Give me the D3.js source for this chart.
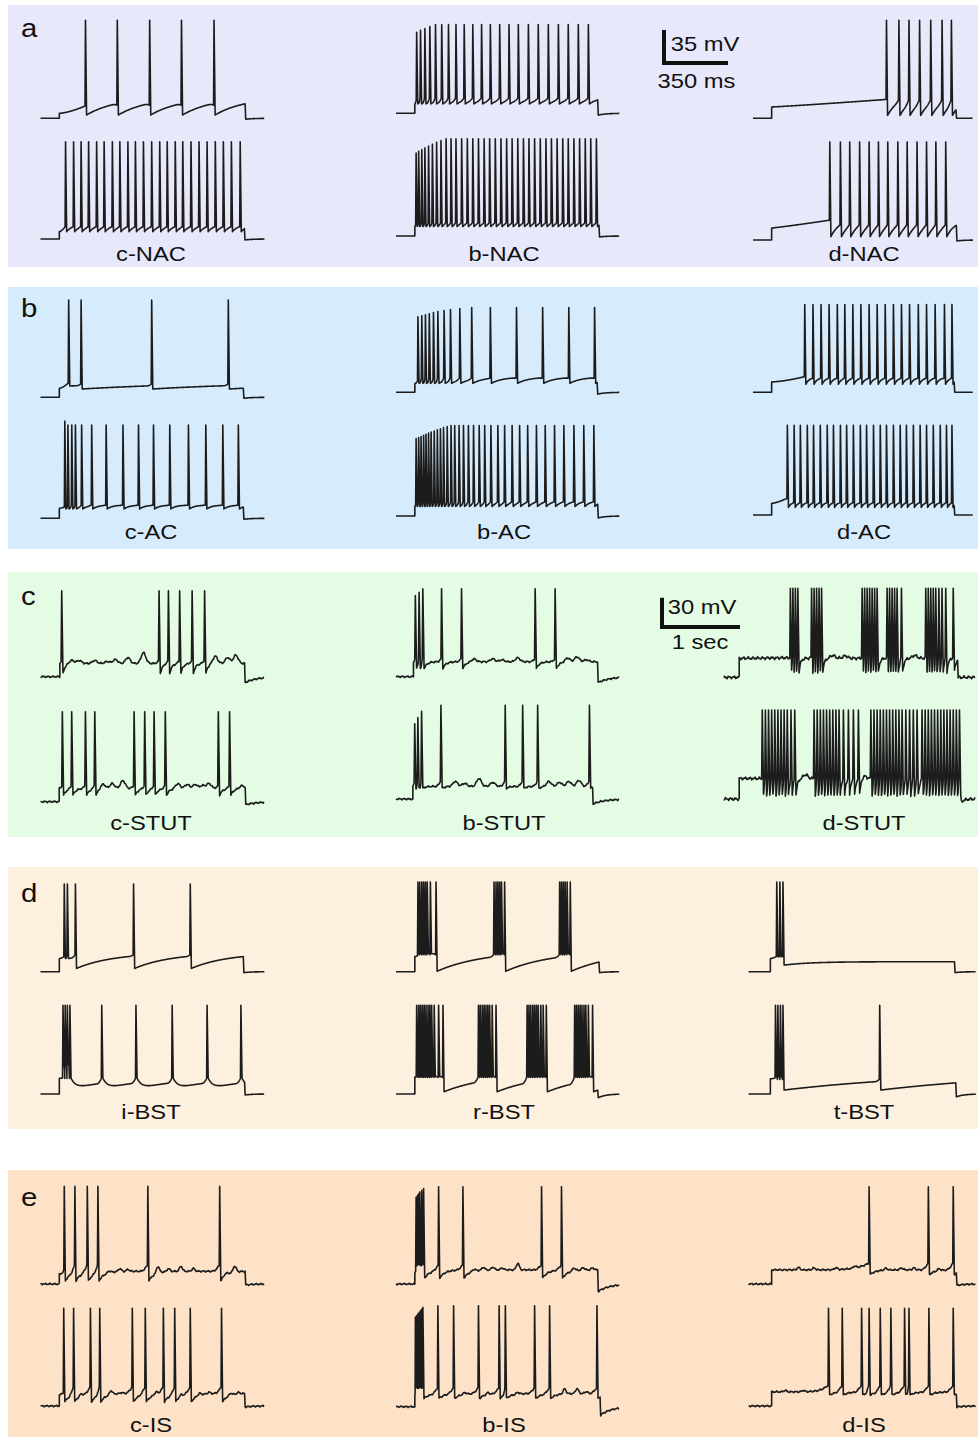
<!DOCTYPE html>
<html><head><meta charset="utf-8">
<script src="https://cdn.jsdelivr.net/npm/d3@7"></script>
<style>body{margin:0;background:#fff}svg{display:block}text{font-family:"Liberation Sans",Arial,Helvetica,sans-serif;fill:#111}</style>
</head><body><svg id="fig" width="978" height="1437"></svg>
<script>
// ---------- DATA ----------
const panelLetters = ["a", "b", "c", "d", "e"];
const rowLabels = [
  ["c-NAC", "b-NAC", "d-NAC"],
  ["c-AC", "b-AC", "d-AC"],
  ["c-STUT", "b-STUT", "d-STUT"],
  ["i-BST", "r-BST", "t-BST"],
  ["c-IS", "b-IS", "d-IS"]
];
const scaleBars = [
  {panel: 0, mv: 35, ms: 350, mvText: "35 mV", msText: "350 ms"},
  {panel: 2, mv: 30, ms: 1000, mvText: "30 mV", msText: "1 sec"}
];

// spike times (ms from trace start)
const sp_cNAC_1 = [246, 420, 597, 771, 949];
const sp_cNAC_2 = [137,181,222,263,307,348,393,434,478,519,563,608,652,693,737,778,823,867,911,956,1000,1044,1092];
const sp_bNAC_1 = [113,134,158,185,216,250,287,328,373,420,468,516,567,618,669,724,778,833,888,942,997,1052];
const sp_bNAC_2 = [110,124,141,158,178,199,222,246,274,301,328,359,390,420,451,482,512,543,574,605,635,666,697,727,758,789,820,850,881,912,942,973,1004,1035,1065,1096];
const sp_dNAC_1 = [730,798,853,911,972,1034,1085];
const sp_dNAC_2 = [420,478,529,583,635,686,737,792,843,897,949,1000,1054];
const sp_cAC_1 = [154,222,608,1027];
const sp_cAC_2 = [133,150,171,191,225,280,359,451,536,618,707,809,904,997,1082];
const sp_bAC_1 = [120,141,161,182,205,229,263,298,349,414,516,659,802,945,1086];
const sp_bAC_2 = [110,124,137,151,164,178,192,209,226,243,260,280,301,321,345,369,396,424,455,485,519,557,594,635,676,720,768,816,867,918,973,1027,1082];
const sp_dAC_1 = [283,328,372,416,461,502,546,590,635,679,723,768,812,856,904,949,996,1047,1088];
const sp_dAC_2 = [188,225,259,297,331,368,406,440,478,512,549,587,621,659,696,730,768,805,839,877,914,949,986,1024,1058,1088];
const sp_cSTUT_1 = [272,1520,1640,1784,1944,2104];
const sp_cSTUT_2 = [280,400,576,696,1200,1336,1456,1600,2280,2424];
const sp_bSTUT_1 = [248,296,344,584,840,1784,2040];
const sp_bSTUT_2 = [240,280,328,576,1400,1624,1816,2480];
const sp_dSTUT_1 = [856,888,920,952,1128,1160,1192,1224,1256,1776,1808,1840,1872,1904,1936,1968,2096,2128,2160,2192,2224,2280,2592,2624,2656,2688,2720,2760,2800,2848,2944];
const sp_dSTUT_2 = [496,536,576,616,656,696,736,776,816,864,912,1160,1200,1240,1280,1320,1360,1400,1440,1480,1536,1600,1664,1728,1888,1928,1968,2008,2048,2088,2128,2168,2208,2248,2288,2336,2384,2432,2480,2544,2584,2624,2664,2704,2744,2784,2824,2864,2904,2944,2984,3024];
const sp_iBST_1 = [130,147,191,509,819];
const sp_iBST_2 = [123,135,147,161,335,522,720,911,1096];
const sp_rBST_1 = [120,130,141,151,161,171,188,219,536,547,557,567,577,594,895,905,915,925,936,953];
const sp_rBST_2 = [113,124,134,144,154,164,175,185,195,209,233,257,451,461,472,482,492,502,512,526,547,717,727,737,748,758,768,778,792,805,822,977,987,997,1007,1017,1028,1038,1052,1075];
const sp_tBST_1 = [154,171,188];
const sp_tBST_2 = [147,160,174,188,717];
const sp_cIS_1 = [130,188,256,314,587,980];
const sp_cIS_2 = [127,181,273,324,502,573,672,734,819,990];
const sp_bIS_1 = [110,117,124,130,141,151,233,366,796,905];
const sp_bIS_2 = [106,113,120,127,134,141,147,229,315,451,564,598,758,840,1099];
const sp_dIS_1 = [659,983,1119];
const sp_dIS_2 = [437,512,618,659,720,778,853,877,986,1119];

// subthreshold oscillation bumps [time ms, amplitude mV]
const bm_cSTUT_1 = [[400,3.4],[496,3],[696,3],[856,2],[960,4],[1120,6],[1320,11],[2240,7.5],[2400,6],[2504,8.5]];
const bm_cSTUT_2 = [[800,5],[920,5],[1056,8],[1760,5],[1880,4],[1984,4],[2080,3],[2160,5],[2584,3]];
const bm_bSTUT_1 = [[1000,3],[1240,3],[1360,2],[1560,4],[2200,4],[2320,5],[2440,2]];
const bm_bSTUT_2 = [[760,5],[880,3],[1064,8],[1240,4],[1960,5],[2096,4],[2216,5],[2344,6]];
const bm_dSTUT_1 = [[1400,3],[1560,2.5],[2450,3]];
const bm_dSTUT_2 = [[1050,4],[1800,3]];
const bm_cIS_1 = [[376,1.8],[434,3],[478,2],[642,7],[700,3],[768,5.3],[836,3],[1014,1.8],[1062,6.4]];
const bm_cIS_2 = [[222,2],[386,4.2],[444,1],[632,3],[768,2],[870,2],[922,1.5],[1041,2],[1082,1.5]];
const bm_bIS_1 = [[427,2],[478,3],[530,3],[581,2],[666,7],[973,3],[1024,2.5],[1075,2]];
const bm_bIS_2 = [[376,1.8],[502,2],[666,1.8],[922,5.3],[990,5.3],[1041,2]];
const bm_dIS_1 = [[273,2.5],[358,2],[478,2],[580,2],[751,2],[836,2],[904,2],[1041,2]];
const bm_dIS_2 = [[200,1.5],[300,1.5]];

// per-trace timing (ms) and voltage levels (mV above rest)
const traces = [
  {p:0,c:0,r:0, s:sp_cNAC_1, on:103, off:1119, dur:1225, step:5.3, pre:13, thr:14, trough:3.5, settle:22, tau:160, peak:104, post:-1},
  {p:0,c:1,r:0, s:sp_bNAC_1, on:103, off:1103, dur:1222, step:10, pre:14, thr:16, trough:10, settle:18, tau:60, peak:94, peak0:86, nPk:4, post:-2},
  {p:0,c:2,r:0, s:sp_dNAC_1, on:102, off:1110, dur:1203, step:12, pre:20, preExp:1.1, thr:19, trough:3, settle:25, tau:60, peak:104, post:0},
  {p:0,c:0,r:1, s:sp_cNAC_2, on:103, off:1115, dur:1225, step:7.8, pre:13, thr:13, trough:7.8, settle:15, tau:30, peak:103, post:-1},
  {p:0,c:1,r:1, s:sp_bNAC_2, on:103, off:1110, dur:1222, step:10, pre:12, thr:14, trough:10, settle:16, tau:30, peak:103, peak0:88, nPk:8, post:-1},
  {p:0,c:2,r:1, s:sp_dNAC_2, on:102, off:1112, dur:1203, step:12.7, pre:21, preExp:1.1, thr:16, trough:3.5, settle:20, tau:40, peak:104, post:-1},

  {p:1,c:0,r:0, s:sp_cAC_1, on:103, off:1109, dur:1225, step:9.5, pre:15, thr:14, trough:8.8, settle:16, tau:600, bTr:12, bIsi:80, peak:103, post:-1},
  {p:1,c:1,r:0, s:sp_bAC_1, on:103, off:1100, dur:1222, step:9, pre:12, thr:15, trough:9.5, settle:16, tau:60, peak:90, peak0:80, nPk:9, post:-2},
  {p:1,c:2,r:0, s:sp_dAC_1, on:102, off:1100, dur:1203, step:11, pre:16.5, thr:15, trough:8.5, settle:15, tau:15, peak:93, post:0},
  {p:1,c:0,r:1, s:sp_cAC_2, on:103, off:1109, dur:1225, step:10.6, pre:12, thr:14, trough:10, settle:14, tau:30, peak:99, peak0:103, nPk:1, post:-1},
  {p:1,c:1,r:1, s:sp_bAC_2, on:103, off:1103, dur:1222, step:10, pre:12, thr:15, trough:10, settle:15.5, tau:25, peak:96, peak0:82, nPk:12, post:-2},
  {p:1,c:2,r:1, s:sp_dAC_2, on:102, off:1100, dur:1203, step:12.4, pre:17.7, thr:13, trough:8, settle:13, tau:12, peak:95, post:0},

  {p:2,c:0,r:0, s:sp_cSTUT_1, on:248, off:2616, dur:2872, step:13.6, pre:16, thr:16, trough:3.4, settle:13.6, tau:30, peak:88, post:-6, postTau:150, noise:1, bumps:bm_cSTUT_1},
  {p:2,c:1,r:0, s:sp_bSTUT_1, on:224, off:2584, dur:2865, step:15, pre:18, thr:18, trough:8.5, settle:15.3, tau:40, peak:90, peak0:83, nPk:2, post:-6, postTau:150, noise:1, bumps:bm_bSTUT_1},
  {p:2,c:2,r:0, s:sp_dSTUT_1, on:200, off:3000, dur:3231, step:19.5, pre:20, thr:20, trough:5.7, settle:19.5, tau:20, peak:91, post:0, noise:1.8, bumps:bm_dSTUT_1},
  {p:2,c:0,r:1, s:sp_cSTUT_2, on:240, off:2624, dur:2872, step:13.6, pre:16, thr:16, trough:6.8, settle:13.6, tau:40, peak:92, post:-3, postTau:150, noise:1, bumps:bm_cSTUT_2},
  {p:2,c:1,r:1, s:sp_bSTUT_2, on:216, off:2520, dur:2865, step:13, pre:16, thr:18, trough:11, settle:13, tau:40, peak:96, peak0:77, nPk:3, post:-5, postTau:150, noise:1, bumps:bm_bSTUT_2},
  {p:2,c:2,r:1, s:sp_dSTUT_2, on:200, off:3040, dur:3231, step:21, pre:21, thr:21, trough:4, settle:21, tau:20, peak:91, post:-3, noise:1.8, bumps:bm_dSTUT_2},

  {p:3,c:0,r:0, s:sp_iBST_1, on:103, off:1109, dur:1225, step:14, pre:16, thr:17.7, trough:3.5, settle:20, tau:200, bTr:14, bIsi:50, peak:93, post:-1},
  {p:3,c:1,r:0, s:sp_rBST_1, on:103, off:1110, dur:1222, step:16, pre:17, thr:18, trough:0.5, settle:22, tau:250, bTr:19, bIsi:40, peak:95, post:-1},
  {p:3,c:2,r:0, s:sp_tBST_1, on:119, off:1126, dur:1243, step:14, pre:16, thr:16, trough:7, settle:10.6, tau:150, bTr:16, bIsi:40, peak:95, post:-1},
  {p:3,c:0,r:1, s:sp_iBST_2, on:103, off:1116, dur:1225, step:16.6, pre:17, thr:16.5, trough:5, settle:18, tau:250, adp:12, adpTau:25, bTr:20, bIsi:20, peak:94, post:-1},
  {p:3,c:1,r:1, s:sp_rBST_2, on:103, off:1103, dur:1222, step:18, pre:18, thr:17.7, trough:2.4, settle:22, tau:250, bTr:18.3, bIsi:30, peak:94, post:-4},
  {p:3,c:2,r:1, s:sp_tBST_2, on:119, off:1133, dur:1243, step:16, pre:17, thr:15.5, trough:4.2, settle:25, tau:900, bTr:18, bIsi:40, peak:94, post:-3},

  {p:4,c:0,r:0, s:sp_cIS_1, on:103, off:1119, dur:1225, step:10, pre:14, thr:20, trough:3.5, settle:13.5, tau:30, peak:103.5, post:-1, noise:1, bumps:bm_cIS_1},
  {p:4,c:1,r:0, s:sp_bIS_1, on:103, off:1103, dur:1222, step:12, pre:14, thr:20, trough:6.4, settle:15, tau:30, bTr:20, bIsi:15, peak:103, peak0:92, nPk:6, post:-7.8, postTau:60, noise:1, bumps:bm_bIS_1},
  {p:4,c:2,r:0, s:sp_dIS_1, on:126, off:1136, dur:1243, step:15, pre:22, preExp:8, thr:22, trough:10, settle:15, tau:30, peak:103, post:-1.4, noise:1, bumps:bm_dIS_1},
  {p:4,c:0,r:1, s:sp_cIS_2, on:103, off:1116, dur:1225, step:11.7, pre:14, thr:20, trough:4.6, settle:13.4, tau:30, peak:103.5, post:-1, noise:1, bumps:bm_cIS_2},
  {p:4,c:1,r:1, s:sp_bIS_2, on:103, off:1116, dur:1222, step:12, pre:14, thr:20, trough:8.8, settle:14, tau:30, bTr:22, bIsi:15, peak:107, peak0:95, nPk:7, post:-8.8, postTau:60, noise:1, bumps:bm_bIS_2},
  {p:4,c:2,r:1, s:sp_dIS_2, on:126, off:1136, dur:1243, step:15, pre:22, preExp:8, thr:22, trough:11.7, settle:15, tau:30, peak:103.5, post:-1, noise:1, bumps:bm_dIS_2}
];

// ---------- LAYOUT / STYLE ----------
const panelColors = ["#e8e8fb", "#d6ebfc", "#e4fbe4", "#fdf0df", "#fde2c8"];
const panelY = [[5,267],[287,549],[572,837],[867,1129],[1170,1437]];
const colX = [[40.5,396,753],[40.5,396,753],[40.5,396,723.6],[40.5,396,748.6],[40.5,396,748.6]];
const baseY = [
  [[118.3,113.3,118.3],[239,236,240]],
  [[397.3,392.3,392.3],[518.3,516,515]],
  [[676.7,676.7,677.3],[801.7,799,799]],
  [[971.7,971.7,971.7],[1094,1094,1094]],
  [[1284,1284,1284],[1406,1406.7,1406]]
];
const labelX = [151, 504, 864];
const labelY = [261, 539, 830, 1119, 1432];
const letterY = [37, 317, 605, 902, 1206];
const TA = {pxPerMs: 64/350, pxPerMv: 0.943, rise: 2.5, fall: 6, ramp: 25, sig: 8};
const TE = {pxPerMs: 64/350, pxPerMv: 0.943, rise: 2.5, fall: 6, ramp: 40, sig: 8};
const TC = {pxPerMs: 0.078, pxPerMv: 0.977, rise: 8, fall: 16, ramp: 60, sig: 30};
const panelT = [TA, TA, TC, TA, TE];
const STRETCH = 1.13;

const svg = d3.select("#fig");
svg.append("rect").attr("width", 978).attr("height", 1437).attr("fill", "#fff");

panelY.forEach((py, i) => {
  svg.append("rect").attr("x", 8).attr("y", py[0]).attr("width", 970).attr("height", py[1] - py[0]).attr("fill", panelColors[i]);
});

function addText(str, x, y, size, anchor) {
  svg.append("text").attr("transform", `translate(${x},${y}) scale(${STRETCH},1)`)
    .attr("text-anchor", anchor).attr("font-size", size).text(str);
}

panelLetters.forEach((L, i) => addText(L, 21, letterY[i], 26, "start"));
rowLabels.forEach((row, i) => row.forEach((lab, j) => addText(lab, labelX[j], labelY[i], 21, "middle")));

function nz(u, s) {
  return 0.5 * Math.sin(1.31 * u + s) + 0.3 * Math.sin(2.77 * u + 1.7 * s) + 0.2 * Math.sin(4.63 * u + 2.9 * s);
}

function makeTrace(d, P, seed) {
  const S = d.s, n = S.length;
  const step = 0.5 / P.pxPerMs;
  const pts = [];
  const noise = t => d.noise ? d.noise * nz(t * P.pxPerMs, seed) : 0;
  const bump = t => {
    let v = 0;
    for (const [bt, a] of (d.bumps || [])) { const z = (t - bt) / P.sig; v += a * Math.exp(-0.5 * z * z); }
    return v;
  };
  const add = (t, v, clean) => pts.push([t, v + (clean ? 0 : noise(t))]);
  for (let t = 0; t < d.on; t += step) add(t, 0);
  add(d.on, 0);
  const rI = i => Math.min(P.rise, i > 0 ? 0.3 * (S[i] - S[i - 1]) : 0.5 * (S[0] - d.on));
  const fI = i => Math.min(P.fall, i < n - 1 ? 0.6 * (S[i + 1] - S[i]) : P.fall);
  const preExp = d.preExp || 1.5;
  const preEnd = n ? S[0] - rI(0) : d.off;
  add(d.on + 0.01, d.step);
  for (let t = d.on + step; t < preEnd; t += step) {
    const v = n ? d.step + (d.pre - d.step) * Math.pow((t - d.on) / (preEnd - d.on), preExp) : d.step;
    add(t, v + bump(t));
  }
  let vEnd = d.step;
  for (let i = 0; i < n; i++) {
    const ts = S[i], r = rI(i), f = fI(i);
    const thrV = i === 0 ? d.pre : d.thr;
    add(ts - r, thrV + bump(ts - r));
    const pk = (d.peak0 != null && d.nPk) ? d.peak0 + (d.peak - d.peak0) * Math.min(1, i / d.nPk) : d.peak;
    add(ts, pk, true);
    const last = i === n - 1;
    const isi = last ? Infinity : S[i + 1] - ts;
    const tr = (d.bIsi && isi < d.bIsi) ? d.bTr : d.trough;
    const t0 = ts + f;
    const segEnd = last ? d.off : S[i + 1] - rI(i + 1);
    const base = dt => d.settle + (tr - d.settle) * Math.exp(-Math.max(0, dt) / d.tau) + (d.adp ? d.adp * Math.exp(-Math.max(0, dt) / d.adpTau) : 0);
    if (t0 < d.off) add(t0, base(0) + bump(t0));
    const span = segEnd - t0;
    const rampDur = last ? 0 : Math.min(0.6 * span, P.ramp);
    const endBase = base(span);
    for (let t = t0 + step; t < segEnd; t += step) {
      let v = base(t - t0);
      if (!last && rampDur > 0) {
        const p = (t - (segEnd - rampDur)) / rampDur;
        if (p > 0) v += (d.thr - endBase) * p * p;
      }
      add(t, v + bump(t));
    }
    if (last) vEnd = base(d.off - t0);
  }
  add(d.off, vEnd + bump(d.off));
  const drop = 0.6 / P.pxPerMs;
  const pTau = d.postTau || 40;
  for (let t = d.off + drop; t <= d.dur; t += step) {
    add(t, d.post * Math.exp(-(t - d.off - drop) / pTau));
  }
  return pts;
}

const gTr = svg.append("g");
traces.forEach((d, k) => {
  const P = panelT[d.p];
  const x0 = colX[d.p][d.c];
  const y0 = baseY[d.p][d.r][d.c];
  const xs = d3.scaleLinear().domain([0, d.dur]).range([x0, x0 + d.dur * P.pxPerMs]);
  const ys = d3.scaleLinear().domain([0, 100]).range([y0, y0 - 100 * P.pxPerMv]);
  const pts = makeTrace(d, P, k * 1.37 + 0.4);
  const line = d3.line().x(q => xs(q[0])).y(q => ys(q[1]));
  gTr.append("path").attr("d", line(pts)).attr("fill", "none")
    .attr("stroke", "#1c1c1c").attr("stroke-width", 1.6).attr("stroke-linejoin", "round");
});

// scale bars
const barPos = [{x: 664, y: 63, tx1: 670.7, ty1: 50.7, tx2: 696.5, ty2: 88}, {x: 662, y: 627, tx1: 667.7, ty1: 614, tx2: 700, ty2: 649}];
scaleBars.forEach((b, i) => {
  const P = panelT[b.panel];
  const pos = barPos[i];
  const xs = d3.scaleLinear().domain([0, b.ms]).range([pos.x, pos.x + b.ms * P.pxPerMs]);
  const ys = d3.scaleLinear().domain([0, b.mv]).range([pos.y, pos.y - b.mv * P.pxPerMv]);
  svg.append("path").attr("d", `M${xs(0)},${ys(b.mv)}V${ys(0)}H${xs(b.ms)}`)
    .attr("fill", "none").attr("stroke", "#111").attr("stroke-width", 4).attr("stroke-linejoin", "miter");
  addText(b.mvText, pos.tx1, pos.ty1, 21, "start");
  addText(b.msText, pos.tx2, pos.ty2, 21, "middle");
});
</script></body></html>
